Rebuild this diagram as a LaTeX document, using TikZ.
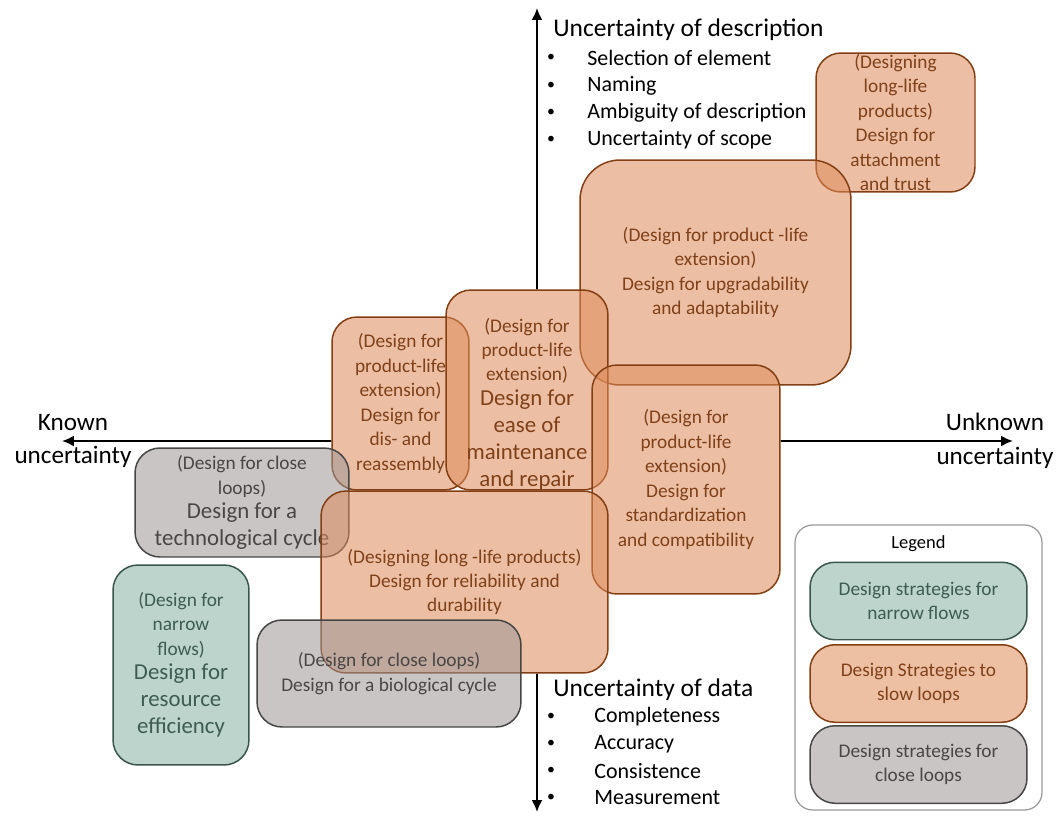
\documentclass[tikz,border=0pt]{standalone}
\usepackage{fontspec}
\setmainfont{Carlito}
\usetikzlibrary{arrows.meta}
\pgfdeclarelayer{axislayer}
\pgfdeclarelayer{backing}
\pgfsetlayers{axislayer,backing,main}

\definecolor{slowfill}{RGB}{222,140,90}
\definecolor{slowline}{RGB}{132,62,20}
\definecolor{slowtext}{RGB}{128,64,24}
\definecolor{closefill}{RGB}{157,150,150}
\definecolor{closeline}{RGB}{70,70,70}
\definecolor{closetext}{RGB}{72,70,70}
\definecolor{narrowfill}{RGB}{133,177,162}
\definecolor{narrowline}{RGB}{58,86,76}
\definecolor{narrowtext}{RGB}{62,92,82}
\newcommand{\bigline}{\fontsize{13}{15.3}\selectfont}

\begin{document}
\begin{tikzpicture}[x=0.02cm,y=-0.02cm,>={Latex[length=2.4mm,width=2.2mm]},
		strat/.style={rounded corners=0.5cm,line width=0.85pt,fill opacity=0.55,text opacity=1,align=center,inner sep=0pt,font=\fontsize{11}{13.9}\selectfont},
		slow/.style={strat,draw=slowline,fill=slowfill,text=slowtext},
		close/.style={strat,draw=closeline,fill=closefill,text=closetext},
		narrow/.style={strat,draw=narrowline,fill=narrowfill,text=narrowtext},
		axis/.style={line width=1.1pt},
		title/.style={anchor=west,inner sep=0pt,font=\fontsize{14.5}{17}\selectfont},
		item/.style={anchor=west,inner sep=0pt,font=\fontsize{12.5}{15}\selectfont},
		dot/.style={inner sep=0pt,font=\fontsize{9}{10}\selectfont},
		ends/.style={align=center,inner sep=0pt,font=\fontsize{14.3}{19.3}\selectfont},
		legbox/.style={strat,rounded corners=0.3cm,minimum width=4.34cm,minimum height=1.55cm,font=\fontsize{10.5}{12}\selectfont}]
		\useasboundingbox (0,0) rectangle (1058,815);
		% axes
		\coordinate (top) at (537,8);
		\coordinate (bottom) at (537,812);
		\coordinate (left) at (62,441);
		\coordinate (right) at (1013,441);
		\begin{pgfonlayer}{axislayer}
		\draw[axis,<->] (bottom) -- (top);
		\draw[axis,<->] (left) -- (right);
		\end{pgfonlayer}
		\node[ends] (known) at (73,441) {Known\\uncertainty};
		\node[ends] (unknown) at (995,441) {Unknown\\uncertainty};
		% uncertainty of description
		\node[title] (desc) at (553,30) {Uncertainty of description};
		\foreach \t [count=\i] in {Selection of element,Naming,Ambiguity of description,Uncertainty of scope}{
			\node[dot] (descb\i) at (551,31+27.3*\i) {\textbullet};
			\node[item] (desct\i) at (587,31+27.3*\i) {\t};
		}
		% uncertainty of data
		\node[title] (data) at (553,690) {Uncertainty of data};
		\foreach \t [count=\i] in {Completeness,Accuracy,Consistence,Measurement}{
			\node[dot] (datab\i) at (551,690+27*\i) {\textbullet};
			\node[item] (datat\i) at (594,690+27*\i) {\t};
		}
		% strategies
		\node[slow,minimum width=3.18cm,minimum height=2.78cm] (attach) at (895.5,122.5)
			{(Designing\\long-life\\products)\\Design for\\attachment\\and trust};
		\node[slow,rounded corners=0.8cm,minimum width=5.42cm,minimum height=4.5cm] (upgrade) at (715.5,272.5)
			{(Design for product -life\\extension)\\Design for upgradability\\and adaptability};
		\node[slow,minimum width=2.74cm,minimum height=3.46cm] (disasm) at (400.5,403.5)
			{(Design for\\product-life\\extension)\\Design for\\dis- and\\reassembly};
		\node[slow,minimum width=3.24cm,minimum height=4cm] (repair) at (527,390) {};
		\node[text=slowtext,align=center,inner sep=0pt,font=\fontsize{11}{13.9}\selectfont] (repairt) at (527,404)
			{(Design for\\product-life\\extension)\\\bigline Design for\\[1.5pt]\bigline ease of\\[1.5pt]\bigline maintenance\\[1.5pt]\bigline and repair};
		\node[slow,minimum width=3.76cm,minimum height=4.58cm] (standard) at (686,479.5)
			{(Design for\\product-life\\extension)\\Design for\\standardization\\and compatibility};
		\node[close,minimum width=4.28cm,minimum height=2.18cm] (techcyc) at (242,502.5)
			{(Design for close\\loops)\\\bigline Design for a\\[1.5pt]\bigline technological cycle};
		\node[slow,minimum width=5.74cm,minimum height=3.64cm] (reliab) at (464.5,582)
			{(Designing long -life products)\\Design for reliability and\\durability};
		\node[narrow,minimum width=2.72cm,minimum height=4cm] (resource) at (181,665)
			{(Design for\\narrow\\flows)\\\bigline Design for\\[1.5pt]\bigline resource\\[1.5pt]\bigline efficiency};
		\node[close,minimum width=5.28cm,minimum height=2.14cm] (biocyc) at (389,673.5)
			{(Design for close loops)\\Design for a biological cycle};
		% white backing hides the axes inside the boxes
		\begin{pgfonlayer}{backing}
		\foreach \n in {attach,upgrade,disasm,repair,standard,techcyc,reliab,resource,biocyc}
			\fill[white,rounded corners=0.5cm] (\n.south west) rectangle (\n.north east);
		\end{pgfonlayer}
		% legend
		\node[draw=black!40,rounded corners=0.35cm,line width=0.7pt,minimum width=4.94cm,minimum height=5.7cm] (legend) at (918.5,667.5) {};
		\node[inner sep=0pt,font=\fontsize{10.5}{12}\selectfont] (legt) at (918.5,544) {Legend};
		\node[legbox,narrow] (legnarrow) at (918.5,601) {Design strategies for\\narrow flows};
		\node[legbox,slow] (legslow) at (918.5,683.5) {Design Strategies to\\slow loops};
		\node[legbox,close] (legclose) at (918.5,764.5) {Design strategies for\\close loops};
\end{tikzpicture}
\end{document}
